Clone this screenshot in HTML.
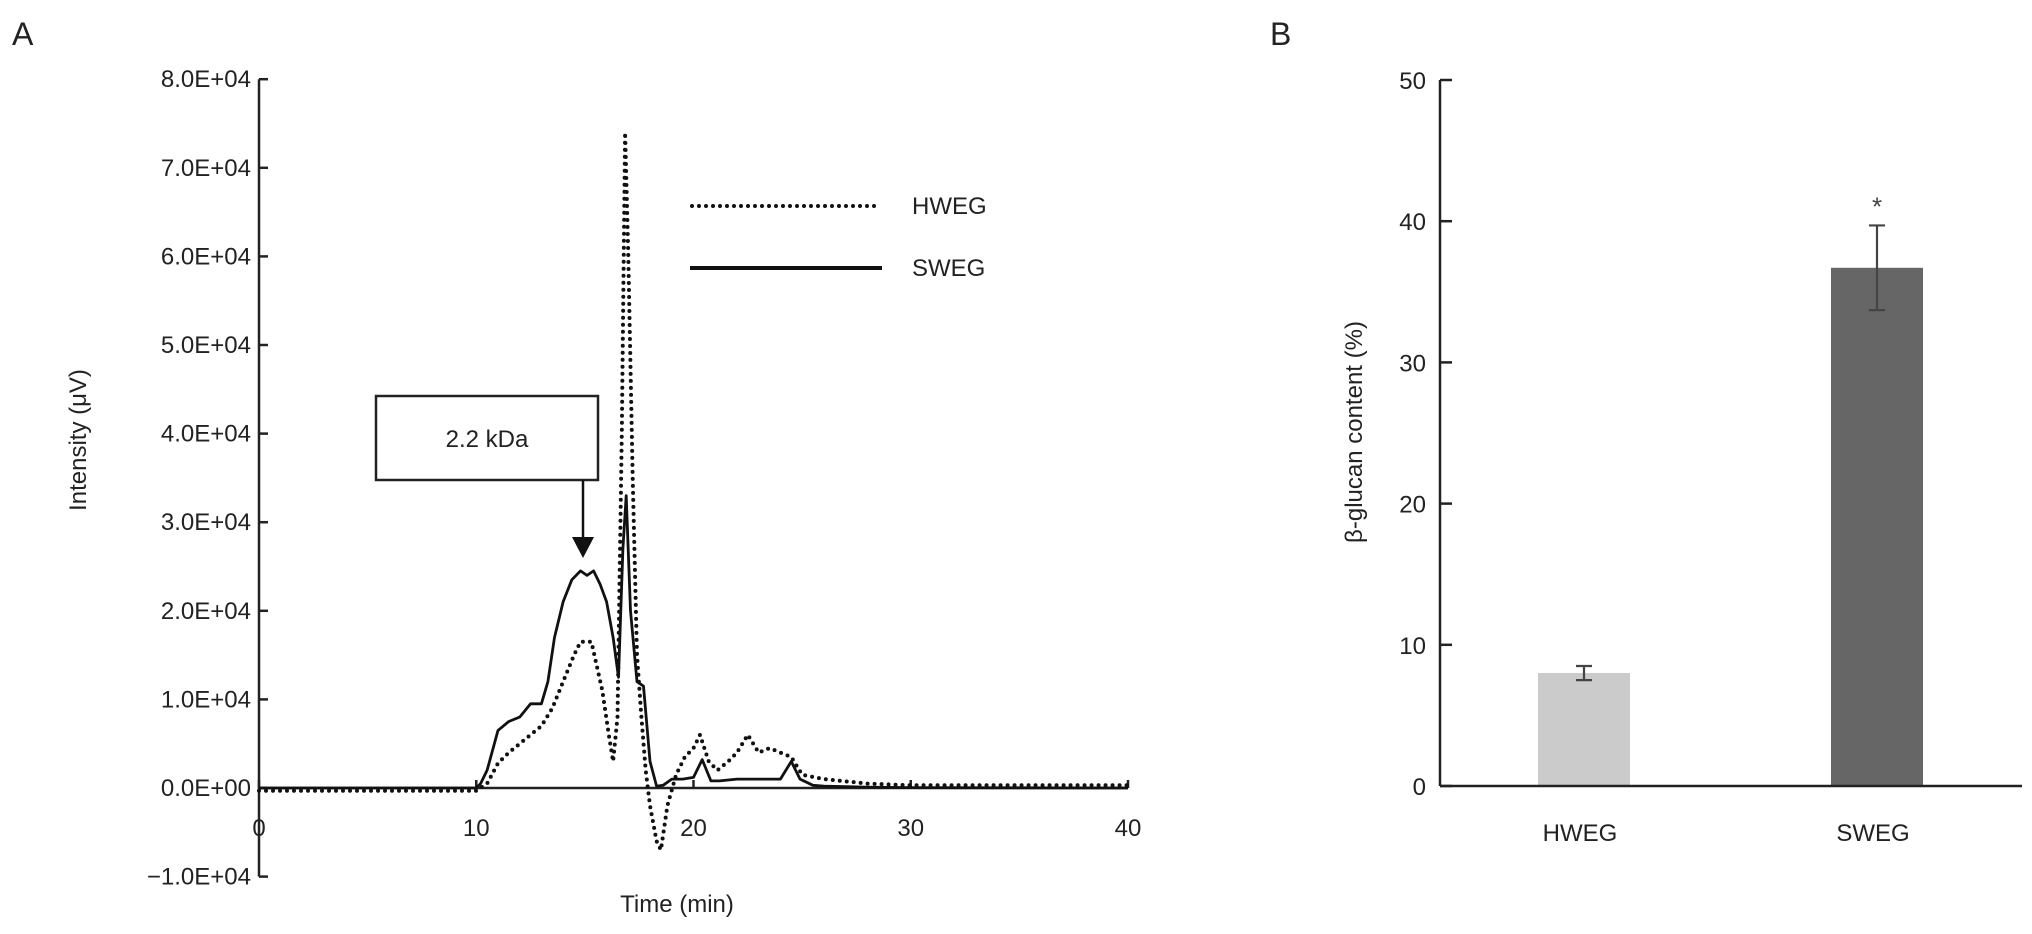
<!DOCTYPE html>
<html><head><meta charset="utf-8"><style>
html,body{margin:0;padding:0;background:#fff;overflow:hidden;}
svg{display:block;font-family:"Liberation Sans",Arial,sans-serif;}
</style></head><body>
<svg id="fig" width="2032" height="934" viewBox="0 0 2032 934">
<text x="12" y="45" font-size="32" fill="#222">A</text>
<text x="1270" y="45" font-size="32" fill="#222">B</text>
<g id="chartA"></g>
<g id="chartB"></g>
</svg>
<script>
// ---- Chart A data (intensity in units of 1E+03 uV) ----
const timeHWEG = [0,5,10,10.5,11,11.5,12,12.5,13,13.5,14,14.5,14.8,15.3,15.8,16.1,16.3,16.5,16.7,16.85,17.0,17.2,17.4,17.6,17.8,18.0,18.3,18.5,18.8,19.2,19.6,20.0,20.3,20.7,21.1,21.6,22.0,22.5,23.0,23.5,24.0,24.5,25.0,26,28,30,35,40];
const valHWEG  = [-0.3,-0.3,-0.3,0.5,2.8,4.0,5.0,6.0,7.0,9,12,15,16.5,16.5,11,6,3,8,40,74,60,35,15,8,2,-2,-6,-7,-2,1.5,3.5,4.5,6,3,2,3,4,6,4,4.5,4,3.5,1.5,1,0.5,0.3,0.3,0.3];
const timeSWEG = [0,5,10,10.2,10.5,11,11.5,12,12.5,13,13.3,13.6,14,14.4,14.8,15.1,15.4,15.7,16.0,16.3,16.55,16.75,16.9,17.1,17.4,17.7,18.0,18.3,18.6,19.0,19.5,20.0,20.4,20.8,21.2,22,23,24,24.5,24.9,25.5,26,28,30,40];
const valSWEG  = [0,0,0,0.5,2,6.5,7.5,8,9.5,9.5,12,17,21,23.5,24.5,24,24.5,23,21,17,12.5,27,33,20,12,11.5,3,0.2,0.3,1,1,1.2,3.2,0.8,0.8,1,1,1,3,1,0.3,0.2,0.1,0.05,0];
const xTicksA = [0,10,20,30,40];
const yTicksA = [-10,0,10,20,30,40,50,60,70,80];
const yTickLabelsA = ["\u22121.0E+04","0.0E+00","1.0E+04","2.0E+04","3.0E+04","4.0E+04","5.0E+04","6.0E+04","7.0E+04","8.0E+04"];
// ---- Chart B data ----
const categoriesB = ["HWEG","SWEG"];
const valuesB = [8.0,36.7];
const errorsB = [0.5,3.0];
const sigB = ["","*"];
const yTicksB = [0,10,20,30,40,50];

const NS="http://www.w3.org/2000/svg";
function mk(parent,tag,attrs,text){const e=document.createElementNS(NS,tag);for(const k in attrs)e.setAttribute(k,attrs[k]);if(text!==undefined)e.textContent=text;parent.appendChild(e);return e;}

// Chart A axes
const ax0=259, ax1=1128, ay0=788, ayPer=8.86;
const xA=t=>ax0+(t/40)*(ax1-ax0);
const yA=v=>ay0-v*ayPer;
const gA=document.getElementById('chartA');
let e;
e=mk(gA,'line',{x1:ax0,y1:yA(80),x2:ax0,y2:yA(-10),stroke:'#222','stroke-width':2.5});


e=mk(gA,'line',{x1:ax0,y1:ay0,x2:ax1,y2:ay0,stroke:'#222','stroke-width':2.5});


yTicksA.forEach((v,i)=>{
  mk(gA,'line',{x1:ax0,y1:yA(v),x2:ax0+9,y2:yA(v),stroke:'#222','stroke-width':2.5});
  e=mk(gA,'text',{x:ax0-8,y:yA(v)+8,'font-size':24,'text-anchor':'end',fill:'#222'},yTickLabelsA[i]);
  
  
});
xTicksA.forEach(t=>{
  mk(gA,'line',{x1:xA(t),y1:ay0,x2:xA(t),y2:ay0-8,stroke:'#222','stroke-width':2.5});
  e=mk(gA,'text',{x:xA(t),y:836,'font-size':24,'text-anchor':'middle',fill:'#222'},String(t));
  
  
});
e=mk(gA,'text',{x:677,y:912,'font-size':24,'text-anchor':'middle',fill:'#222'},'Time (min)');


e=mk(gA,'text',{x:86,y:440,'font-size':24,'text-anchor':'middle',fill:'#222',transform:'rotate(-90 86 440)'},'Intensity (\u03bcV)');


function pathFrom(ts,vs){return ts.map((t,i)=>(i?'L':'M')+xA(t).toFixed(1)+' '+yA(vs[i]).toFixed(1)).join(' ');}
e=mk(gA,'path',{d:pathFrom(timeSWEG,valSWEG),fill:'none',stroke:'#111','stroke-width':2.8,'stroke-linejoin':'round'});


e=mk(gA,'path',{d:pathFrom(timeHWEG,valHWEG),fill:'none',stroke:'#111','stroke-width':4,'stroke-linecap':'round','stroke-dasharray':'0 7'});


// legend
e=mk(gA,'line',{x1:692,y1:206,x2:880,y2:206,stroke:'#111','stroke-width':4,'stroke-linecap':'round','stroke-dasharray':'0 7'});


e=mk(gA,'text',{x:912,y:214,'font-size':24,fill:'#222'},'HWEG');


e=mk(gA,'line',{x1:690,y1:268,x2:882,y2:268,stroke:'#111','stroke-width':4});


e=mk(gA,'text',{x:912,y:276,'font-size':24,fill:'#222'},'SWEG');


// annotation
e=mk(gA,'rect',{x:376,y:396,width:222,height:84,fill:'#fff',stroke:'#222','stroke-width':2.5});


e=mk(gA,'text',{x:487,y:447,'font-size':24,'text-anchor':'middle',fill:'#222'},'2.2 kDa');


mk(gA,'line',{x1:583,y1:480,x2:583,y2:538,stroke:'#111','stroke-width':2.5});
e=mk(gA,'polygon',{points:'572,537 594,537 583,558',fill:'#111'});



// Chart B
const bx0=1440, bx1=2022, by0=786, byPer=14.12;
const yB=v=>by0-v*byPer;
const centersB=[1584,1877];
const bw=92;
const colorsB=['#cbcbcb','#666666'];
const gB=document.getElementById('chartB');
e=mk(gB,'line',{x1:bx0,y1:yB(50),x2:bx0,y2:by0,stroke:'#222','stroke-width':2.5});


yTicksB.forEach(v=>{
  mk(gB,'line',{x1:bx0,y1:yB(v),x2:bx0+12,y2:yB(v),stroke:'#222','stroke-width':2.5});
  e=mk(gB,'text',{x:bx0-14,y:yB(v)+9,'font-size':24,'text-anchor':'end',fill:'#222'},String(v));
  
  
});
e=mk(gB,'text',{x:1362,y:432,'font-size':24,'text-anchor':'middle',fill:'#222',transform:'rotate(-90 1362 432)'},'\u03b2-glucan content (%)');


categoriesB.forEach((c,i)=>{
  const cx=centersB[i];
  e=mk(gB,'rect',{x:cx-bw/2,y:yB(valuesB[i]),width:bw,height:by0-yB(valuesB[i]),fill:colorsB[i]});
  
  
  const t=yB(valuesB[i]+errorsB[i]), b=yB(valuesB[i]-errorsB[i]);
  e=mk(gB,'path',{d:`M${cx} ${t} L${cx} ${b} M${cx-8} ${t} L${cx+8} ${t} M${cx-8} ${b} L${cx+8} ${b}`,stroke:'#444','stroke-width':2.2,fill:'none'});
  
  
  if(sigB[i]){
    e=mk(gB,'text',{x:cx,y:t-10,'font-size':26,'text-anchor':'middle',fill:'#444'},sigB[i]);
    
    
  }
  e=mk(gB,'text',{x:cx-4,y:841,'font-size':24,'text-anchor':'middle',fill:'#222'},c);
  
  
});
e=mk(gB,'line',{x1:bx0,y1:by0,x2:bx1,y2:by0,stroke:'#222','stroke-width':2.5});


</script>
</body></html>
